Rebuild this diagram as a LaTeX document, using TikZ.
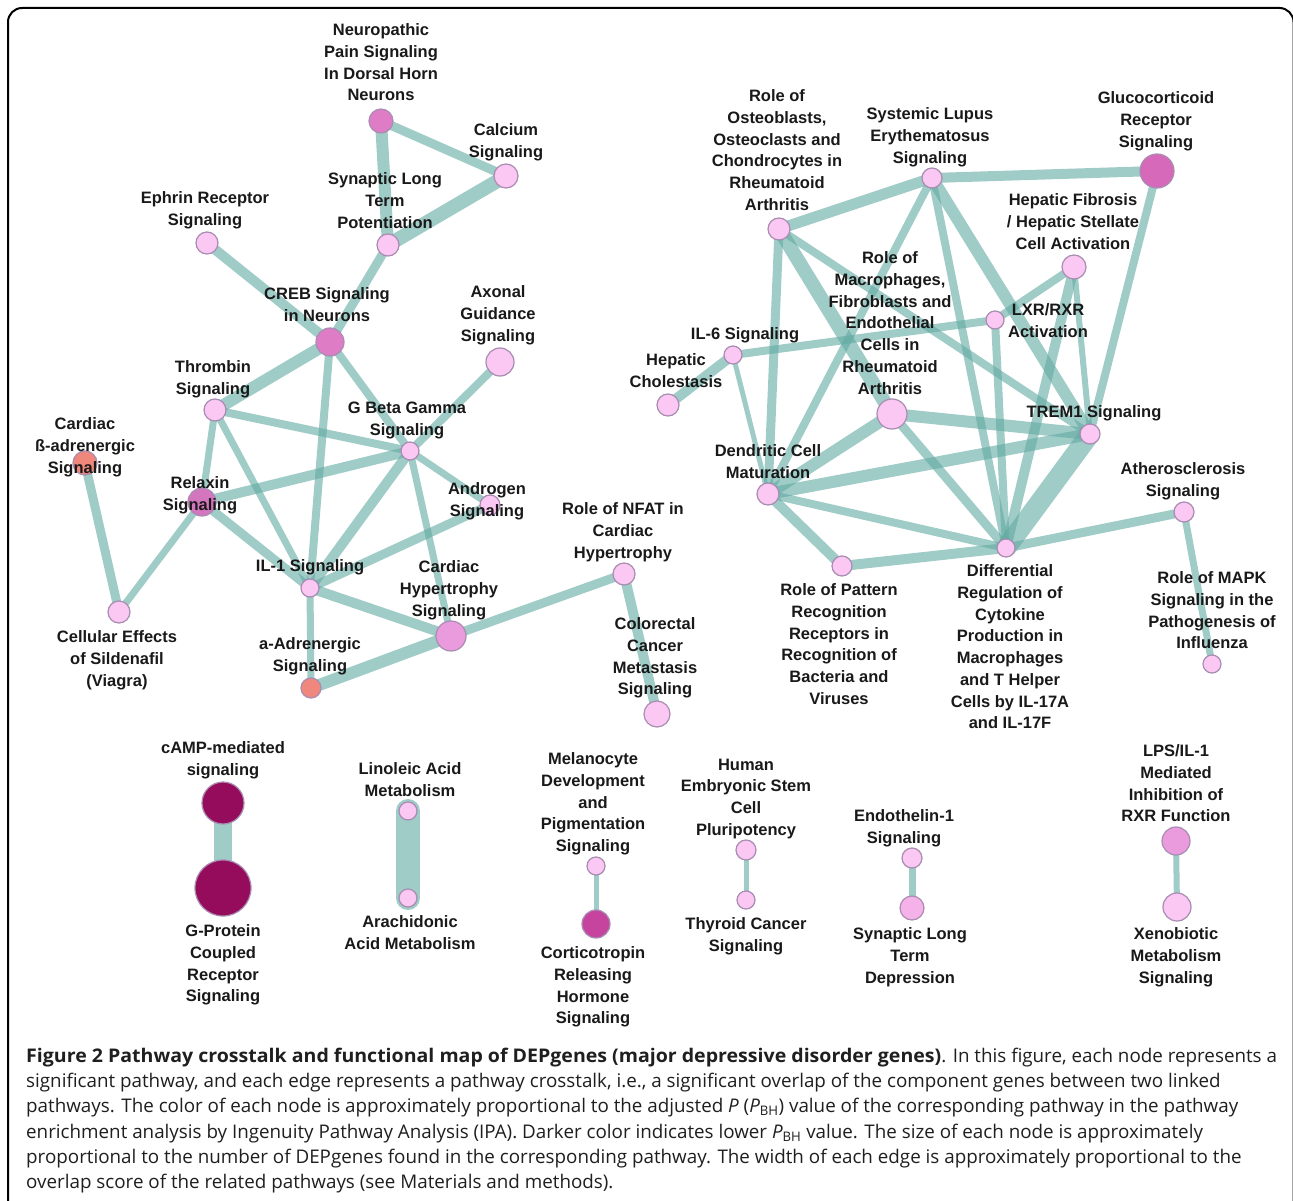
\documentclass[tikz,border=0pt]{standalone}
\usepackage{fontspec}
\setmainfont{Liberation Sans}
\newfontfamily\labfont{Liberation Sans}
\newfontfamily\capfont{Open Sans}[BoldFeatures={FakeStretch=1.04}]
\pgfdeclarelayer{edgelayer}
\pgfsetlayers{edgelayer,main}
\definecolor{edgec}{RGB}{97,170,163}
\definecolor{lp}{RGB}{250,200,242}
\definecolor{mp}{RGB}{222,125,198}
\definecolor{rp}{RGB}{212,118,190}
\definecolor{gp}{RGB}{214,105,185}
\definecolor{chp}{RGB}{234,155,222}
\definecolor{sal}{RGB}{240,135,125}
\definecolor{dm}{RGB}{150,12,92}
\definecolor{cort}{RGB}{198,68,158}
\definecolor{ltd}{RGB}{244,178,232}
\definecolor{nodeb}{RGB}{168,140,178}
\definecolor{txt}{RGB}{25,25,25}
\tikzset{
  pn/.style={circle, inner sep=0pt, fill=#1, draw=nodeb, line width=1.2pt},
  edge/.style={draw=edgec, draw opacity=0.6, line cap=butt},
  lab/.style={anchor=north, align=center, inner sep=0pt, text=txt,
    font=\labfont\fontsize{16.5}{21.7}\selectfont\bfseries},
  capl/.style={anchor=base west, inner sep=0pt, text=black!88,
    font=\capfont\fontsize{18.8}{25}\selectfont}
}
% label: name, x, y of first line centre, text
\newcommand\plab[4]{\node[lab] (#1) at (#2,#3-6.3) {#4};}
\begin{document}
\begin{tikzpicture}[x=1pt,y=-1pt]
\useasboundingbox (0,0) rectangle (1293,1201);
\draw[line width=2pt, rounded corners=14pt] (8,1230) -- (8,8) -- (1293.5,8) -- (1293.5,1230);

% ---------- nodes: left cluster ----------
\node[pn=mp,  minimum size=24] (NP)   at (381,121) {};
\node[pn=lp,  minimum size=24] (Ca)   at (506,176) {};
\node[pn=lp,  minimum size=22] (LTP)  at (388,245) {};
\node[pn=lp,  minimum size=22] (Eph)  at (207,243) {};
\node[pn=mp,  minimum size=28] (CREB) at (330,342) {};
\node[pn=lp,  minimum size=28] (Ax)   at (500,362) {};
\node[pn=lp,  minimum size=22] (Thr)  at (215,410) {};
\node[pn=lp,  minimum size=18] (GBG)  at (410,451) {};
\node[pn=sal, minimum size=24] (CB)   at (85,463) {};
\node[pn=lp,  minimum size=20] (And)  at (490,505) {};
\node[pn=rp,  minimum size=28] (Rel)  at (202,502) {};
\node[pn=lp,  minimum size=18] (IL1)  at (310,588) {};
\node[pn=chp, minimum size=30] (CH)   at (451,636) {};
\node[pn=lp,  minimum size=22] (NFAT) at (624,574) {};
\node[pn=lp,  minimum size=22] (Sil)  at (119,612) {};
\node[pn=sal, minimum size=20] (aA)   at (311,688) {};
\node[pn=lp,  minimum size=26] (Col)  at (657,714) {};

% ---------- nodes: right cluster ----------
\node[pn=lp,  minimum size=22] (Ost)  at (779,229) {};
\node[pn=lp,  minimum size=20] (SLE)  at (932,178) {};
\node[pn=gp,  minimum size=34] (Glu)  at (1157,171) {};
\node[pn=lp,  minimum size=24] (HF)   at (1074,267) {};
\node[pn=lp,  minimum size=18] (LXR)  at (995,320) {};
\node[pn=lp,  minimum size=18] (IL6)  at (733,355) {};
\node[pn=lp,  minimum size=22] (HC)   at (668,405) {};
\node[pn=lp,  minimum size=30] (Mac)  at (892,414) {};
\node[pn=lp,  minimum size=20] (TREM) at (1090,434) {};
\node[pn=lp,  minimum size=22] (DC)   at (768,494) {};
\node[pn=lp,  minimum size=20] (Ath)  at (1184,512) {};
\node[pn=lp,  minimum size=18] (DR)   at (1006,548) {};
\node[pn=lp,  minimum size=20] (PR)   at (842,566) {};
\node[pn=lp,  minimum size=18] (MAPK) at (1212,664) {};

% ---------- nodes: bottom pairs ----------
\node[pn=dm,   minimum size=42] (cAMP) at (223,803) {};
\node[pn=dm,   minimum size=56] (GPCR) at (223,888) {};
\node[pn=lp,   minimum size=18] (Lin)  at (408,811) {};
\node[pn=lp,   minimum size=18] (Ara)  at (408,898) {};
\node[pn=lp,   minimum size=18] (Mel)  at (596,866) {};
\node[pn=cort, minimum size=28] (Cort) at (596,924) {};
\node[pn=lp,   minimum size=20] (HESC) at (746,850) {};
\node[pn=lp,   minimum size=18] (Thy)  at (746,900) {};
\node[pn=lp,   minimum size=20] (End)  at (912,858) {};
\node[pn=ltd,  minimum size=24] (LTD)  at (912,908) {};
\node[pn=chp,  minimum size=28] (LPS)  at (1176,841) {};
\node[pn=lp,   minimum size=28] (Xen)  at (1177,907) {};

% ---------- edges ----------
\begin{pgfonlayer}{edgelayer}
\fill[white] (0,0) rectangle (1293,1201);
\draw[edge, line width=12] (NP.center) -- (LTP.center);
\draw[edge, line width=9]  (NP.center) -- (Ca.center);
\draw[edge, line width=14] (Ca.center) -- (LTP.center);
\draw[edge, line width=9]  (LTP.center) -- (CREB.center);
\draw[edge, line width=10] (Eph.center) -- (CREB.center);
\draw[edge, line width=12] (CREB.center) -- (Thr.center);
\draw[edge, line width=8]  (CREB.center) -- (IL1.center);
\draw[edge, line width=8]  (CREB.center) -- (GBG.center);
\draw[edge, line width=8]  (Ax.center) -- (GBG.center);
\draw[edge, line width=8]  (Thr.center) -- (GBG.center);
\draw[edge, line width=7]  (Thr.center) -- (Rel.center);
\draw[edge, line width=7]  (Thr.center) -- (IL1.center);
\draw[edge, line width=10] (GBG.center) -- (Rel.center);
\draw[edge, line width=10] (GBG.center) -- (IL1.center);
\draw[edge, line width=7]  (GBG.center) -- (And.center);
\draw[edge, line width=7]  (GBG.center) -- (CH.center);
\draw[edge, line width=9]  (Rel.center) -- (IL1.center);
\draw[edge, line width=7]  (Rel.center) -- (Sil.center);
\draw[edge, line width=9]  (CB.center) -- (Sil.center);
\draw[edge, line width=9]  (IL1.center) -- (And.center);
\draw[edge, line width=10] (IL1.center) -- (CH.center);
\draw[edge, line width=7]  (IL1.center) -- (aA.center);
\draw[edge, line width=12] (CH.center) -- (aA.center);
\draw[edge, line width=9]  (CH.center) -- (NFAT.center);
\draw[edge, line width=10] (NFAT.center) -- (Col.center);
% right cluster
\draw[edge, line width=11] (Ost.center) -- (SLE.center);
\draw[edge, line width=10] (SLE.center) -- (Glu.center);
\draw[edge, line width=8]  (Glu.center) -- (TREM.center);
\draw[edge, line width=14] (Ost.center) -- (Mac.center);
\draw[edge, line width=9]  (Ost.center) -- (DC.center);
\draw[edge, line width=8]  (Ost.center) -- (TREM.center);
\draw[edge, line width=8]  (SLE.center) -- (DC.center);
\draw[edge, line width=8]  (SLE.center) -- (DR.center);
\draw[edge, line width=12] (SLE.center) -- (TREM.center);
\draw[edge, line width=8]  (HF.center) -- (LXR.center);
\draw[edge, line width=10] (HF.center) -- (DR.center);
\draw[edge, line width=6]  (HF.center) -- (TREM.center);
\draw[edge, line width=8]  (IL6.center) -- (LXR.center);
\draw[edge, line width=10] (IL6.center) -- (HC.center);
\draw[edge, line width=5]  (IL6.center) -- (DC.center);
\draw[edge, line width=8]  (LXR.center) -- (DR.center);
\draw[edge, line width=12] (Mac.center) -- (DC.center);
\draw[edge, line width=12] (Mac.center) -- (TREM.center);
\draw[edge, line width=9]  (Mac.center) -- (DR.center);
\draw[edge, line width=12] (DC.center) -- (TREM.center);
\draw[edge, line width=8]  (DC.center) -- (DR.center);
\draw[edge, line width=10] (DC.center) -- (PR.center);
\draw[edge, line width=10] (PR.center) -- (DR.center);
\draw[edge, line width=20] (TREM.center) -- (DR.center);
\draw[edge, line width=9]  (DR.center) -- (Ath.center);
\draw[edge, line width=7]  (Ath.center) -- (MAPK.center);
% bottom pairs
\draw[edge, line width=18] (cAMP.center) -- (GPCR.center);
\draw[edge, line width=24, line cap=round] (Lin.center) -- (Ara.center);
\draw[edge, line width=5]  (Mel.center) -- (Cort.center);
\draw[edge, line width=5]  (HESC.center) -- (Thy.center);
\draw[edge, line width=7]  (End.center) -- (LTD.center);
\draw[edge, line width=6]  (LPS.center) -- (Xen.center);
\end{pgfonlayer}

% ---------- labels ----------
\plab{tNP}{381}{30}{Neuropathic\\Pain Signaling\\In Dorsal Horn\\Neurons}
\plab{tCa}{506}{130}{Calcium\\Signaling}
\plab{tLTP}{385}{179}{Synaptic Long\\Term\\Potentiation}
\plab{tEph}{205}{198}{Ephrin Receptor\\Signaling}
\plab{tCREB}{327}{294}{CREB Signaling\\in Neurons}
\plab{tAx}{498}{292}{Axonal\\Guidance\\Signaling}
\plab{tThr}{213}{367}{Thrombin\\Signaling}
\plab{tGBG}{407}{408}{G Beta Gamma\\Signaling}
\plab{tCB}{85}{424}{Cardiac\\ß-adrenergic\\Signaling}
\plab{tRel}{200}{483}{Relaxin\\Signaling}
\plab{tAnd}{487}{489}{Androgen\\Signaling}
\plab{tNFAT}{623}{509}{Role of NFAT in\\Cardiac\\Hypertrophy}
\plab{tIL1}{310}{566}{IL-1 Signaling}
\plab{tCH}{449}{567}{Cardiac\\Hypertrophy\\Signaling}
\plab{tSil}{117}{637}{Cellular Effects\\of Sildenafil\\(Viagra)}
\plab{taA}{310}{644}{a-Adrenergic\\Signaling}
\plab{tCol}{655}{624}{Colorectal\\Cancer\\Metastasis\\Signaling}

\plab{tOst}{777}{96}{Role of\\Osteoblasts,\\Osteoclasts and\\Chondrocytes in\\Rheumatoid\\Arthritis}
\plab{tSLE}{930}{114}{Systemic Lupus\\Erythematosus\\Signaling}
\plab{tGlu}{1156}{98}{Glucocorticoid\\Receptor\\Signaling}
\plab{tHF}{1073}{200}{Hepatic Fibrosis\\/ Hepatic Stellate\\Cell Activation}
\plab{tMac}{890}{258}{Role of\\Macrophages,\\Fibroblasts and\\Endothelial\\Cells in\\Rheumatoid\\Arthritis}
\plab{tLXR}{1048}{310}{LXR/RXR\\Activation}
\plab{tIL6}{745}{334}{IL-6 Signaling}
\plab{tHC}{676}{360}{Hepatic\\Cholestasis}
\plab{tTREM}{1094}{412}{TREM1 Signaling}
\plab{tDC}{768}{451}{Dendritic Cell\\Maturation}
\plab{tAth}{1183}{469}{Atherosclerosis\\Signaling}
\plab{tPR}{839}{590}{Role of Pattern\\Recognition\\Receptors in\\Recognition of\\Bacteria and\\Viruses}
\plab{tDR}{1010}{571}{Differential\\Regulation of\\Cytokine\\Production in\\Macrophages\\and T Helper\\Cells by IL-17A\\and IL-17F}
\plab{tMAPK}{1212}{578}{Role of MAPK\\Signaling in the\\Pathogenesis of\\Influenza}

\plab{tcAMP}{223}{748}{cAMP-mediated\\signaling}
\plab{tGPCR}{223}{931}{G-Protein\\Coupled\\Receptor\\Signaling}
\plab{tLin}{410}{769}{Linoleic Acid\\Metabolism}
\plab{tAra}{410}{922}{Arachidonic\\Acid Metabolism}
\plab{tMel}{593}{759}{Melanocyte\\Development\\and\\Pigmentation\\Signaling}
\plab{tCort}{593}{953}{Corticotropin\\Releasing\\Hormone\\Signaling}
\plab{tHESC}{746}{765}{Human\\Embryonic Stem\\Cell\\Pluripotency}
\plab{tThy}{746}{924}{Thyroid Cancer\\Signaling}
\plab{tEnd}{904}{816}{Endothelin-1\\Signaling}
\plab{tLTD}{910}{934}{Synaptic Long\\Term\\Depression}
\plab{tLPS}{1176}{751}{LPS/IL-1\\Mediated\\Inhibition of\\RXR Function}
\plab{tXen}{1176}{934}{Xenobiotic\\Metabolism\\Signaling}

% ---------- caption ----------
\node[capl] (c1) at (26,1062) {\textbf{Figure 2 Pathway crosstalk and functional map of DEPgenes (major depressive disorder genes)}. In this figure, each node represents a};
\node[capl] (c2) at (26,1087) {significant pathway, and each edge represents a pathway crosstalk, i.e., a significant overlap of the component genes between two linked};
\node[capl] (c3) at (26,1112) {pathways. The color of each node is approximately proportional to the adjusted {\itshape P} ({\itshape P}\textsubscript{BH}) value of the corresponding pathway in the pathway};
\node[capl] (c4) at (26,1138) {enrichment analysis by Ingenuity Pathway Analysis (IPA). Darker color indicates lower {\itshape P}\textsubscript{BH} value. The size of each node is approximately};
\node[capl] (c5) at (26,1163) {proportional to the number of DEPgenes found in the corresponding pathway. The width of each edge is approximately proportional to the};
\node[capl] (c6) at (26,1188) {overlap score of the related pathways (see Materials and methods).};
\end{tikzpicture}
\end{document}
